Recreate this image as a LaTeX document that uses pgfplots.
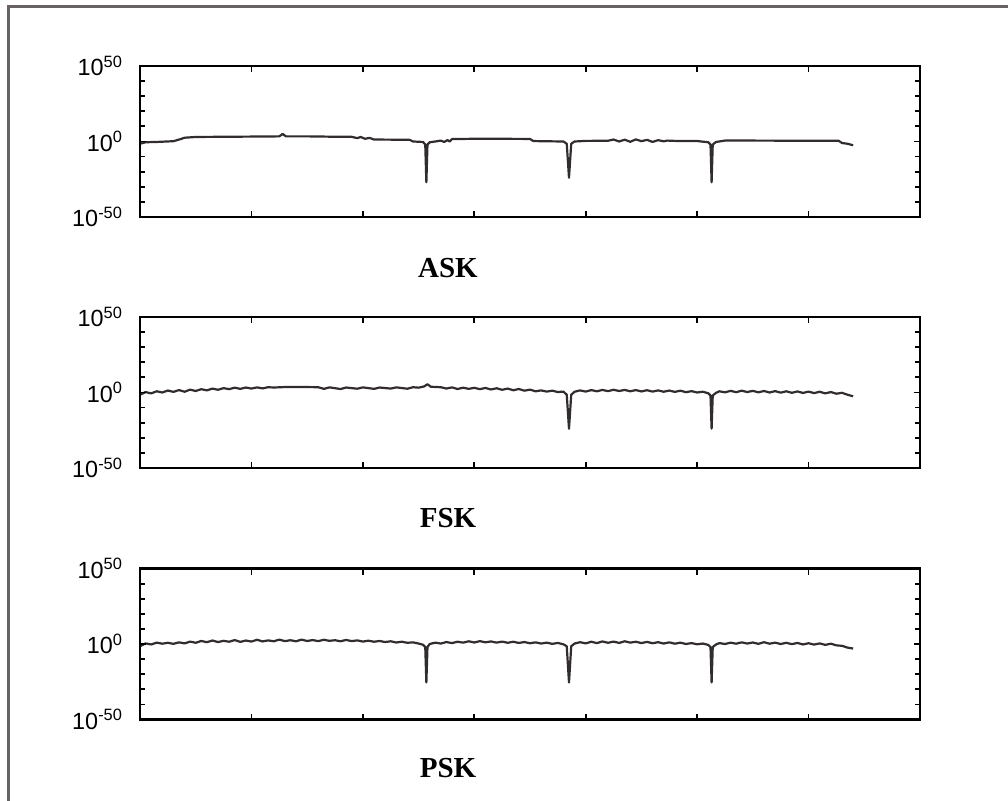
\documentclass[border=0pt]{standalone}
\usepackage{fontspec}
\setmainfont{Liberation Serif}
\setsansfont{Liberation Sans}
\usepackage{pgfplots}
\pgfplotsset{compat=1.18}

\definecolor{framegray}{RGB}{105,98,98}
\definecolor{sig}{RGB}{50,45,45}

% y values are decimal exponents (the axis is labelled 10^n)
\pgfplotsset{
  spec/.style={
    scale only axis, width=390pt, height=75.5pt,
    xmin=0, xmax=7, ymin=-50, ymax=50,
    xtick={0,...,7}, xticklabels={},
    ytick={-50,0,50},
    yticklabels={10\textsuperscript{-50},10\textsuperscript{0},10\textsuperscript{50}},
    minor ytick={-40,-30,-20,-10,10,20,30,40},
    tick align=inside, major tick length=3pt, minor tick length=2.5pt,
    axis line style={line width=1.2pt},
    every tick/.style={line width=0.9pt, black},
    yticklabel style={font=\sffamily\fontsize{11.7}{14}\selectfont, xshift=-5pt},
    axis on top,
  },
  sigline/.style={sig, line width=1.1pt, line join=round},
}

\begin{document}
\begin{tikzpicture}
\useasboundingbox (0,0) rectangle (504pt,400pt);
\draw[framegray, line width=1.5pt] (4pt,-5pt) -- (4pt,396.5pt) -- (510pt,396.5pt);

% ---------- ASK ----------
\begin{axis}[spec, at={(70pt,291.5pt)}, anchor=south west]
\addplot[sigline] coordinates {
(0,-1.5) (0.05,-0.5) (0.15,-0.3) (0.3,0.2) (0.36,1.5) (0.4,2.5) (0.5,3) (0.7,3.1)
(0.9,3.2) (1.1,3.3) (1.25,3.4) (1.28,5) (1.31,3.4) (1.5,3.4) (1.7,3.2) (1.9,3.1)
(1.95,2.2) (1.98,3) (2.02,1.8) (2.06,2.4) (2.1,1.3) (2.3,1.2) (2.42,1.1) (2.45,0)
(2.54,-0.3) (2.56,-2) (2.57,-27) (2.58,-2) (2.6,-0.5) (2.65,0) (2.7,0.6) (2.73,-0.3)
(2.76,0.9) (2.78,0) (2.8,1.6) (3.0,1.8) (3.2,1.8) (3.5,1.7) (3.53,0.3) (3.6,0.2)
(3.8,0) (3.83,-1.5) (3.85,-24) (3.87,-1.5) (3.9,0) (4.0,0.4) (4.2,0.5) (4.25,1.3)
(4.3,0) (4.35,1.2) (4.4,-0.2) (4.45,1.4) (4.5,0.2) (4.55,1.1) (4.6,-0.3) (4.65,0.9)
(4.7,0.1) (4.73,0.6) (4.8,0.4) (5.0,0.3) (5.1,-0.5) (5.12,-2) (5.13,-27) (5.14,-2)
(5.17,-0.3) (5.25,0.6) (5.5,0.6) (6.0,0.5) (6.27,0.5) (6.3,-1) (6.35,-1.5) (6.4,-2.5)
};
\end{axis}
\node[font=\bfseries\fontsize{14.5}{17}\selectfont] at (224pt,266pt) {ASK};

% ---------- FSK ----------
\begin{axis}[spec, at={(70pt,166pt)}, anchor=south west]
\addplot[sigline] coordinates {
(0,-1.5) (0.05,0.3) (0.1,-0.6) (0.15,0.8) (0.2,0) (0.25,1.3) (0.3,0.4) (0.35,1.6)
(0.4,0.5) (0.45,1.9) (0.5,1) (0.55,2.2) (0.6,1.4) (0.65,2.6) (0.7,1.8) (0.75,2.9)
(0.8,2.2) (0.85,3.2) (0.9,2.4) (0.95,3.3) (1.0,2.6) (1.05,3.4) (1.1,2.7) (1.15,3.5)
(1.2,3.3) (1.3,3.6) (1.4,3.7) (1.5,3.6) (1.6,3.5) (1.65,2.4) (1.7,3.4) (1.8,2.3)
(1.85,3.3) (1.95,2.5) (2.0,3.4) (2.1,2.4) (2.15,3.3) (2.25,2.6) (2.3,3.4) (2.4,2.5)
(2.45,3.5) (2.5,3.2) (2.55,4) (2.58,5.5) (2.61,3.8) (2.7,3.5) (2.75,2.6) (2.8,3.4)
(2.85,2.3) (2.9,3.2) (2.95,2.4) (3.0,3.1) (3.05,2.2) (3.1,3.0) (3.15,2.0) (3.2,2.8)
(3.25,1.8) (3.3,2.6) (3.35,1.5) (3.4,2.3) (3.45,1.2) (3.5,1.9) (3.55,0.8) (3.6,1.4)
(3.65,0.6) (3.7,1.2) (3.75,0.3) (3.8,0.6) (3.83,-1.5) (3.85,-24) (3.87,-1.5) (3.9,0.5)
(3.95,1.4) (4.0,0.6) (4.05,1.6) (4.1,0.8) (4.15,1.7) (4.2,0.9) (4.25,1.8) (4.3,1.0)
(4.35,1.7) (4.4,0.8) (4.45,1.6) (4.5,0.7) (4.55,1.5) (4.6,0.6) (4.65,1.4) (4.7,0.5)
(4.75,1.3) (4.8,0.4) (4.85,1.2) (4.9,0.2) (4.95,0.9) (5.0,0) (5.05,0.5) (5.1,-0.5)
(5.12,-2) (5.13,-24) (5.14,-2) (5.17,-0.2) (5.2,0.8) (5.25,0.1) (5.3,1.1) (5.35,0.2)
(5.4,1.2) (5.45,0.3) (5.5,1.1) (5.55,0.1) (5.6,1.0) (5.65,0) (5.7,0.9) (5.75,-0.1)
(5.8,0.8) (5.85,-0.2) (5.9,0.7) (5.95,-0.3) (6.0,0.6) (6.05,-0.4) (6.1,0.5) (6.15,-0.6)
(6.2,0.3) (6.25,-0.8) (6.3,-0.2) (6.35,-1.5) (6.4,-2.5)
};
\end{axis}
\node[font=\bfseries\fontsize{14.5}{17}\selectfont] at (224pt,141pt) {FSK};

% ---------- PSK ----------
\begin{axis}[spec, at={(70pt,40.25pt)}, anchor=south west]
\addplot[sigline] coordinates {
(0,-1.5) (0.05,0.4) (0.1,-0.3) (0.15,0.9) (0.2,0.2) (0.25,0.8) (0.3,0.1) (0.35,1.1)
(0.4,0.4) (0.45,1.6) (0.5,0.8) (0.55,2.0) (0.6,1.2) (0.65,2.3) (0.7,1.3) (0.75,2.1)
(0.8,1.5) (0.85,2.6) (0.9,1.4) (0.95,2.3) (1.0,1.6) (1.05,2.8) (1.1,1.7) (1.15,2.4)
(1.2,1.8) (1.25,2.9) (1.3,1.9) (1.35,2.5) (1.4,1.8) (1.45,2.9) (1.5,2.0) (1.55,2.6)
(1.6,1.9) (1.65,2.8) (1.7,2.1) (1.75,2.5) (1.8,1.8) (1.85,2.7) (1.9,1.9) (1.95,2.4)
(2.0,1.6) (2.05,2.2) (2.1,1.5) (2.15,2.0) (2.2,1.3) (2.25,1.8) (2.3,1.0) (2.35,1.5)
(2.4,0.8) (2.45,1.1) (2.5,0.3) (2.54,-0.5) (2.56,-2) (2.57,-25.5) (2.58,-2) (2.6,0)
(2.65,0.9) (2.7,0.3) (2.75,1.3) (2.8,0.6) (2.85,1.5) (2.9,0.9) (2.95,1.8) (3.0,1.0)
(3.05,1.9) (3.1,1.1) (3.15,1.7) (3.2,0.9) (3.25,1.6) (3.3,0.8) (3.35,1.5) (3.4,0.7)
(3.45,1.3) (3.5,0.5) (3.55,1.1) (3.6,0.3) (3.65,0.9) (3.7,0.1) (3.75,0.7) (3.8,-0.2)
(3.83,-1.5) (3.85,-25.5) (3.87,-1.5) (3.9,0.3) (3.95,1.2) (4.0,0.4) (4.05,1.5) (4.1,0.6)
(4.15,1.7) (4.2,0.8) (4.25,1.6) (4.3,0.7) (4.35,1.8) (4.4,0.9) (4.45,1.5) (4.5,0.6)
(4.55,1.4) (4.6,0.5) (4.65,1.2) (4.7,0.3) (4.75,1.1) (4.8,0.2) (4.85,0.9) (4.9,0)
(4.95,0.6) (5.0,-0.2) (5.05,0.3) (5.1,-0.6) (5.12,-2) (5.13,-25.5) (5.14,-2) (5.17,-0.3)
(5.2,0.6) (5.25,0) (5.3,0.9) (5.35,0.2) (5.4,1.1) (5.45,0.3) (5.5,1.0) (5.55,0.1)
(5.6,1.2) (5.65,0.2) (5.7,0.9) (5.75,0) (5.8,0.8) (5.85,-0.1) (5.9,0.7) (5.95,-0.3)
(6.0,0.5) (6.05,-0.4) (6.1,0.4) (6.15,-0.6) (6.2,0.2) (6.25,-0.9) (6.3,-1.2) (6.35,-2.4)
(6.4,-3)
};
\end{axis}
\node[font=\bfseries\fontsize{14.5}{17}\selectfont] at (224pt,16pt) {PSK};
\end{tikzpicture}
\end{document}
